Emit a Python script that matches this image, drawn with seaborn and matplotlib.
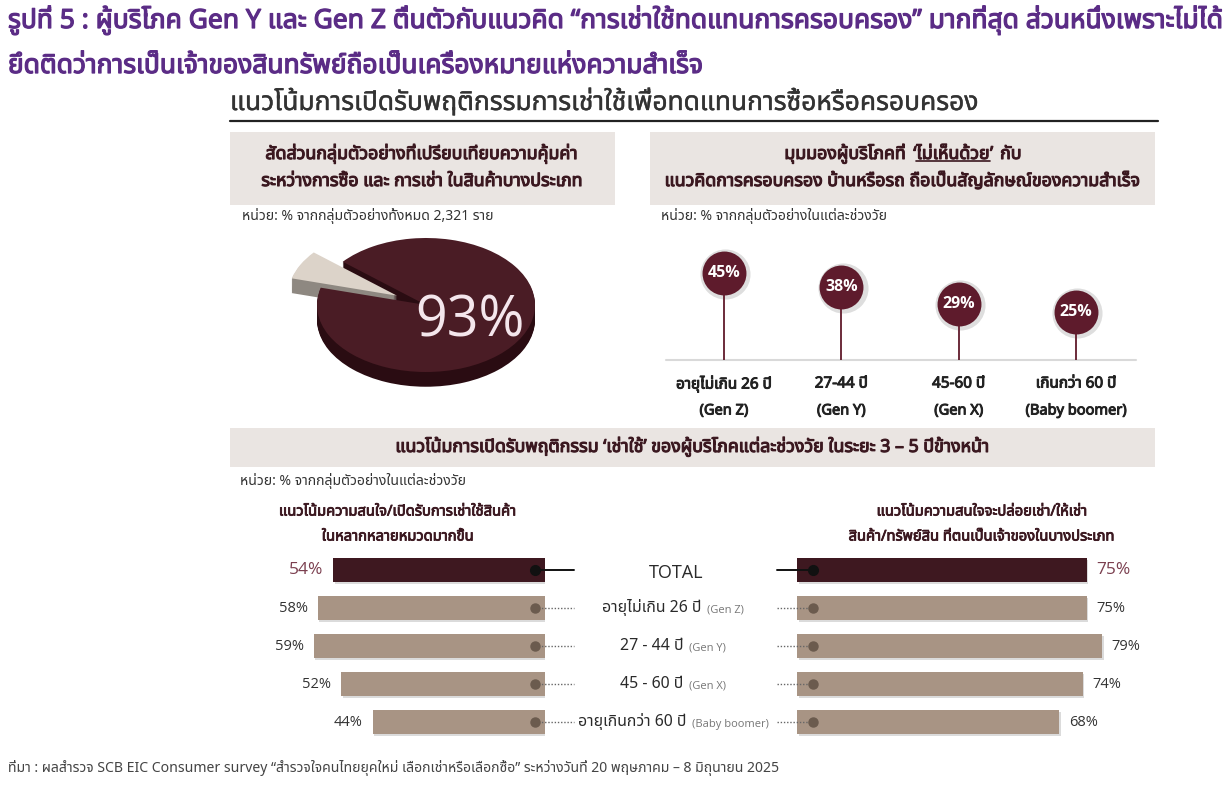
import numpy as np
import pandas as pd
import matplotlib
matplotlib.use("Agg")
import matplotlib.pyplot as plt
import matplotlib.patheffects as pe
import seaborn as sns
from matplotlib import font_manager as fm
from matplotlib.ft2font import FT2Font
from matplotlib.offsetbox import TextArea, HPacker, AnnotationBbox
from matplotlib.patches import Rectangle
from matplotlib.lines import Line2D
from matplotlib.transforms import IdentityTransform

# ---------------- data ----------------
pie_labels = ["เปรียบเทียบความคุ้มค่า", "อื่น ๆ"]
pie_values = [93, 7]

age_groups = ["อายุไม่เกิน 26 ปี", "27-44 ปี", "45-60 ปี", "เกินกว่า 60 ปี"]
gen_labels = ["(Gen Z)", "(Gen Y)", "(Gen X)", "(Baby boomer)"]
disagree_pct = [45, 38, 29, 25]

row_main = ["TOTAL", "อายุไม่เกิน 26 ปี", "27 - 44 ปี", "45 - 60 ปี", "อายุเกินกว่า 60 ปี"]
row_sub = ["", "(Gen Z)", "(Gen Y)", "(Gen X)", "(Baby boomer)"]
rent_in_pct = [54, 58, 59, 52, 44]
rent_out_pct = [75, 75, 79, 74, 68]

# ---------------- fonts ----------------
sns.set_theme(style="white")


def find_thai_font():
    prefs = ["Noto Sans Thai", "Noto Sans Thai Looped", "Kanit", "Prompt", "Sarabun",
             "Loma", "Garuda", "Waree", "Umpush", "Norasi", "Kinnari", "Laksaman",
             "Tlwg Typo", "Sawasdee", "Leelawadee UI", "Tahoma", "FreeSans", "FreeSerif"]
    names = {f.name for f in fm.fontManager.ttflist}
    for p in prefs:
        if p in names:
            return p
    for f in fm.fontManager.ttflist:
        try:
            cm = FT2Font(f.fname).get_charmap()
            if 0x0E01 in cm and 0x0E40 in cm and 0x0041 in cm:
                return f.name
        except Exception:
            pass
    return None


THAI = find_thai_font()
FAM = [THAI, "DejaVu Sans"] if THAI else ["DejaVu Sans"]
plt.rcParams["font.family"] = FAM
LAT = ["Open Sans", "DejaVu Sans"]


def bold(color, w=0.8):
    return [pe.withStroke(linewidth=w, foreground=color)]


W, H = 1232, 788
fig = plt.figure(figsize=(W / 100, H / 100), dpi=100)
fig.patch.set_facecolor("white")

bg = fig.add_axes([0, 0, 1, 1], zorder=0)
bg.set_xlim(0, W)
bg.set_ylim(H, 0)
bg.axis("off")


def px_axes(x0, y0, x1, y1, z=2):
    return fig.add_axes([x0 / W, 1 - y1 / H, (x1 - x0) / W, (y1 - y0) / H], zorder=z)


PURPLE = "#5B2C86"
MAROON_TXT = "#3B1820"
BOX = "#EAE5E2"

# ---------------- titles ----------------
bg.text(8, 20, "รูปที่ 5 : ผู้บริโภค Gen Y และ Gen Z ตื่นตัวกับแนวคิด “การเช่าใช้ทดแทนการครอบครอง” มากที่สุด ส่วนหนึ่งเพราะไม่ได้",
        fontsize=19.0, color=PURPLE, ha="left", va="center", path_effects=bold(PURPLE, 0.9))
bg.text(8, 66, "ยึดติดว่าการเป็นเจ้าของสินทรัพย์ถือเป็นเครื่องหมายแห่งความสำเร็จ",
        fontsize=19.0, color=PURPLE, ha="left", va="center", path_effects=bold(PURPLE, 0.9))
bg.text(230, 103, "แนวโน้มการเปิดรับพฤติกรรมการเช่าใช้เพื่อทดแทนการซื้อหรือครอบครอง",
        fontsize=19.0, color="#333333", ha="left", va="center", path_effects=bold("#333333", 0.3))
bg.plot([230, 1158], [121, 121], color="#222222", lw=1.6)

# ---------------- header boxes ----------------
bg.add_patch(Rectangle((230, 132), 385, 73, color=BOX, lw=0))
bg.add_patch(Rectangle((650, 132), 505, 73, color=BOX, lw=0))
bg.add_patch(Rectangle((230, 428), 925, 39, color=BOX, lw=0))

hdr = dict(fontsize=12.8, color=MAROON_TXT, ha="center", va="center", path_effects=bold(MAROON_TXT))
bg.text(422, 154, "สัดส่วนกลุ่มตัวอย่างที่เปรียบเทียบความคุ้มค่า", **hdr)
bg.text(422, 181, "ระหว่างการซื้อ และ การเช่า ในสินค้าบางประเภท", **hdr)

tp = dict(fontsize=12.8, color=MAROON_TXT, family=FAM, path_effects=bold(MAROON_TXT))
ta_a = TextArea("มุมมองผู้บริโภคที่", textprops=tp)
ta_q1 = TextArea("‘", textprops=tp)
ta_mid = TextArea("ไม่เห็นด้วย", textprops=tp)
ta_q2 = TextArea("’", textprops=tp)
ta_c = TextArea("กับ", textprops=tp)
inner = HPacker(children=[ta_q1, ta_mid, ta_q2], sep=0, pad=0, align="baseline")
pack = HPacker(children=[ta_a, inner, ta_c], sep=5, pad=0, align="baseline")
bg.add_artist(AnnotationBbox(pack, (903, 154), xycoords="data", frameon=False,
                             box_alignment=(0.5, 0.5), pad=0))
bg.text(903, 181, "แนวคิดการครอบครอง บ้านหรือรถ ถือเป็นสัญลักษณ์ของความสำเร็จ", **hdr)

bg.text(693, 447, "แนวโน้มการเปิดรับพฤติกรรม ‘เช่าใช้’ ของผู้บริโภคแต่ละช่วงวัย ในระยะ 3 – 5 ปีข้างหน้า", **hdr)

unit = dict(fontsize=10.1, color="#333333", ha="left", va="center")
bg.text(242, 216, "หน่วย: % จากกลุ่มตัวอย่างทั้งหมด 2,321 ราย", **unit)
bg.text(661, 216, "หน่วย: % จากกลุ่มตัวอย่างในแต่ละช่วงวัย", **unit)
bg.text(240, 481, "หน่วย: % จากกลุ่มตัวอย่างในแต่ละช่วงวัย", **unit)

sub = dict(fontsize=10.6, color=MAROON_TXT, ha="center", va="center", path_effects=bold(MAROON_TXT, 0.6))
bg.text(398, 512, "แนวโน้มความสนใจ/เปิดรับการเช่าใช้สินค้า", **sub)
bg.text(398, 537, "ในหลากหลายหมวดมากขึ้น", **sub)
bg.text(982, 512, "แนวโน้มความสนใจจะปล่อยเช่า/ให้เช่า", **sub)
bg.text(982, 537, "สินค้า/ทรัพย์สิน ที่ตนเป็นเจ้าของในบางประเภท", **sub)

bg.text(8, 768, "ที่มา : ผลสำรวจ SCB EIC Consumer survey “สำรวจใจคนไทยยุคใหม่ เลือกเช่าหรือเลือกซื้อ” ระหว่างวันที่ 20 พฤษภาคม – 8 มิถุนายน 2025",
        fontsize=10.1, color="#444444", ha="left", va="center")

# ---------------- pie (pseudo 3D) ----------------
pax = px_axes(250, 222, 600, 398)
cx, cy, rx, ry = 426, 305, 109, 67
explode = [0, 0.3]
n_layers = 14
depth = 0.22
for i in range(n_layers, 0, -1):
    off = -depth * i / n_layers
    pax.pie(pie_values, startangle=165, explode=explode, colors=["#2A0C12", "#8E8881"],
            center=(0, off), radius=1, wedgeprops=dict(linewidth=0))
pax.pie(pie_values, startangle=165, explode=explode, colors=["#4A1C25", "#DCD3C9"],
        center=(0, 0), radius=1, wedgeprops=dict(linewidth=0))
pax.set_aspect("auto")
pax.set_xlim((250 - cx) / rx, (600 - cx) / rx)
pax.set_ylim(-(398 - cy) / ry, (cy - 222) / ry)
pax.axis("off")
pax.annotate(f"{pie_values[0]}%", xy=(470, H - 322), xycoords="figure pixels",
             ha="center", va="center", fontsize=40, color="#F4E6EC", family=LAT)

# ---------------- lollipop ----------------
lax = px_axes(666, 250, 1136, 360)
xs = np.arange(len(age_groups))
lax.set_xlim(-0.494, 3.51)
lax.set_ylim(0, 57)
lax.axhline(0, color="#D9D9D9", lw=1.5, clip_on=False)
lax.vlines(xs, 0, disagree_pct, color="#6B2B3A", lw=1.4)
sns.scatterplot(x=xs + 0.01, y=np.array(disagree_pct) - 0.6, s=1300, color="#000000", alpha=0.13,
                linewidth=0, ax=lax, legend=False, clip_on=False)
sns.scatterplot(x=xs, y=disagree_pct, s=1000, color="#5E1B2C", linewidth=0, ax=lax,
                legend=False, zorder=3, clip_on=False)
for x, v in zip(xs, disagree_pct):
    lax.text(x, v, f"{v}%", ha="center", va="center", color="white", fontsize=11.5,
             fontweight="bold", family=LAT, zorder=4)
for x, a, g in zip(xs, age_groups, gen_labels):
    lax.annotate(a, xy=(x, 0), xytext=(0, -17.3), textcoords="offset points", ha="center",
                 va="center", fontsize=11, color="#222222", annotation_clip=False,
                 path_effects=bold("#222222", 0.7))
    lax.annotate(g, xy=(x, 0), xytext=(0, -36.7), textcoords="offset points", ha="center",
                 va="center", fontsize=10.5, color="#222222", annotation_clip=False,
                 path_effects=bold("#222222", 0.7))
lax.axis("off")

# ---------------- bars ----------------
bar_colors = {g: ("#3E1820" if i == 0 else "#A89484") for i, g in enumerate(row_main)}
PXL = 3.92
PXR = 3.86

left_ax = px_axes(280, 551, 545, 741)
df_in = pd.DataFrame({"grp": row_main, "val": rent_in_pct})
sns.barplot(data=df_in, x="val", y="grp", hue="grp", palette=bar_colors, legend=False,
            width=24 / 38, ax=left_ax, orient="h", linewidth=0, saturation=1)
left_ax.set_xlim((545 - 280) / PXL, 0)
left_ax.set_ylim(4.5, -0.5)
left_ax.axis("off")

right_ax = px_axes(797, 551, 1140, 741)
df_out = pd.DataFrame({"grp": row_main, "val": rent_out_pct})
sns.barplot(data=df_out, x="val", y="grp", hue="grp", palette=bar_colors, legend=False,
            width=24 / 38, ax=right_ax, orient="h", linewidth=0, saturation=1)
right_ax.set_xlim(0, (1140 - 797) / PXR)
right_ax.set_ylim(4.5, -0.5)
right_ax.axis("off")

for axb in (left_ax, right_ax):
    for p in axb.patches:
        p.set_path_effects([pe.SimplePatchShadow(offset=(1.2, -1.2), shadow_rgbFace="#9a9a9a", alpha=0.35),
                            pe.Normal()])

for i, (vl, vr) in enumerate(zip(rent_in_pct, rent_out_pct)):
    total = i == 0
    lab = dict(fontsize=12.5 if total else 10.5, color="#7B3F4F" if total else "#333333",
               va="center", textcoords="offset points", annotation_clip=False, family=LAT)
    left_ax.annotate(f"{vl}%", xy=(vl, i), xytext=(-7, 0), ha="right", **lab)
    right_ax.annotate(f"{vr}%", xy=(vr, i), xytext=(7, 0), ha="left", **lab)
    dcol = "#111111" if total else "#6B5B4E"
    ls = "-" if total else (0, (1, 1.3))
    lcol = "#111111" if total else "#666666"
    lw = 1.4 if total else 1.0
    ms = 7 if total else 6.5
    xl_dot = 10 / PXL
    xr_dot = 16 / PXR
    left_ax.plot([xl_dot, -29 / PXL], [i, i], color=lcol, lw=lw, ls=ls, clip_on=False, zorder=3)
    left_ax.plot([xl_dot], [i], "o", ms=ms, color=dcol, clip_on=False, zorder=4)
    right_ax.plot([-20 / PXR, xr_dot], [i, i], color=lcol, lw=lw, ls=ls, clip_on=False, zorder=3)
    right_ax.plot([xr_dot], [i], "o", ms=ms, color=dcol, clip_on=False, zorder=4)

# center labels
for i, (m, s) in enumerate(zip(row_main, row_sub)):
    y = 570 + 38 * i
    if i == 0:
        bg.text(676, y + 3, m, fontsize=13, color="#2A2A2A", ha="center", va="center", family=LAT)
        continue
    t1 = TextArea(m, textprops=dict(fontsize=11.4, color="#2A2A2A", family=FAM))
    t2 = TextArea(s, textprops=dict(fontsize=8, color="#777777", family=LAT))
    hp = HPacker(children=[t1, t2], sep=4, pad=0, align="baseline")
    bg.add_artist(AnnotationBbox(hp, (673, y), xycoords="data", frameon=False,
                                 box_alignment=(0.5, 0.5), pad=0))

# underline for 'ไม่เห็นด้วย'
fig.canvas.draw()
bb = ta_mid.get_window_extent(fig.canvas.get_renderer())
fig.add_artist(Line2D([bb.x0, bb.x1], [bb.y0 + 2, bb.y0 + 2], transform=IdentityTransform(),
                      color=MAROON_TXT, lw=1.2))

fig.savefig("out.png", dpi=100, facecolor="white")
